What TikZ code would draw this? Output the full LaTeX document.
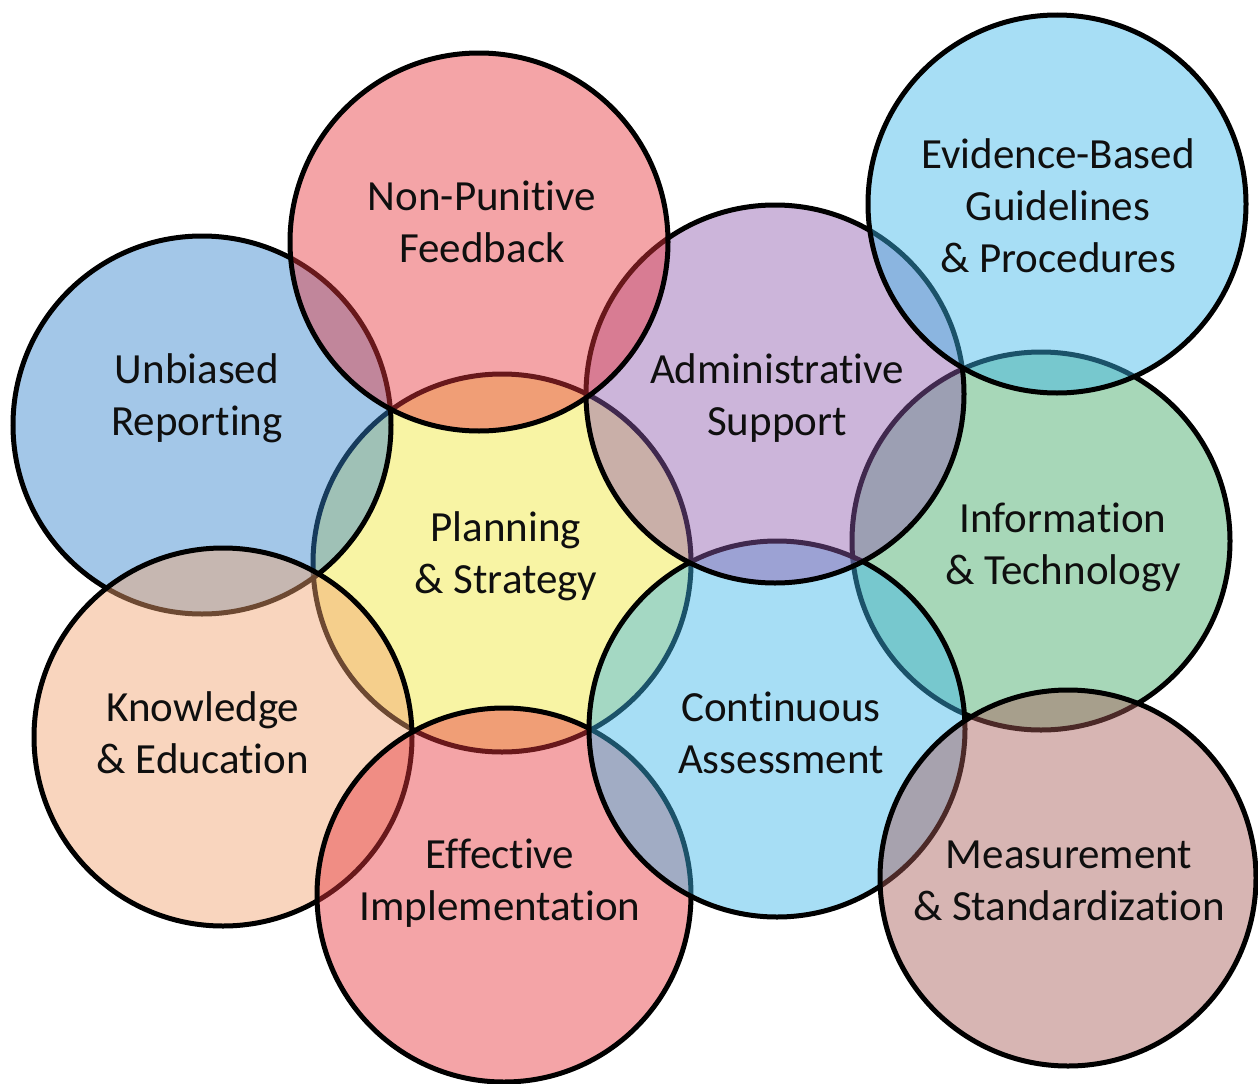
\documentclass[tikz,border=0pt]{standalone}
\usepackage{fontspec}
\setmainfont{Carlito}[Ligatures=NoCommon, RawFeature={-liga;-clig;-calt;-rlig;-dlig}]
\definecolor{cPink}{RGB}{231,55,62}
\definecolor{cYellow}{RGB}{240,232,55}
\definecolor{cBlue}{RGB}{51,133,204}
\definecolor{cCyan}{RGB}{62,182,233}
\definecolor{cPurple}{RGB}{144,91,173}
\definecolor{cGreen}{RGB}{62,168,99}
\definecolor{cPeach}{RGB}{242,164,111}
\definecolor{cMauve}{RGB}{168,91,88}
\definecolor{cText}{RGB}{15,15,15}
\tikzset{
  bubble/.style={circle, draw=black, line width=5pt, fill opacity=0.45,
    draw opacity=1, inner sep=0pt, outer sep=0pt},
  lbl/.style={font=\fontsize{43}{52}\selectfont, align=center, text=cText,
    inner sep=0pt}
}
\begin{document}
\begin{tikzpicture}[x=1pt,y=-1pt]
\fill[white] (0,0) rectangle (1258,1084);
\useasboundingbox (0,0) rectangle (1258,1084);
% circles, bottom to top
\node[bubble, fill=cYellow, minimum size=378pt] (plan) at (502,563) {};
\node[bubble, fill=cBlue,   minimum size=378pt] (unb)  at (202,425) {};
\node[bubble, fill=cPeach,  minimum size=378pt] (know) at (223,737) {};
\node[bubble, fill=cPink,   minimum size=374pt] (eff)  at (504,895) {};
\node[bubble, fill=cGreen,  minimum size=378pt] (info) at (1041,541) {};
\node[bubble, fill=cCyan,   minimum size=376pt] (cont) at (777,729) {};
\node[bubble, fill=cMauve,  minimum size=376pt] (meas) at (1068,878) {};
\node[bubble, fill=cPurple, minimum size=378pt] (adm)  at (775,394) {};
\node[bubble, fill=cPink,   minimum size=378pt] (nonp) at (479,242) {};
\node[bubble, fill=cCyan,   minimum size=378pt] (evid) at (1057,204) {};
% labels
\node[lbl] (tplan) at (506,557) {\strut Planning\\\strut\& Strategy};
\node[lbl] (tunb)  at (197,399) {\strut Unbiased\\\strut Reporting};
\node[lbl] (tknow) at (203,737) {\strut Knowledge\\\strut\& Education};
\node[lbl] (teff)  at (500,884) {\strut Effective\\\strut Implementation};
\node[lbl] (tinfo) at (1063,548) {\strut Information\\\strut\& Technology};
\node[lbl] (tcont) at (781,737) {\strut Continuous\\\strut Assessment};
\node[lbl] (tmeas) at (1069,884) {\strut Measurement\\\strut\& Standardization};
\node[lbl] (tadm)  at (777,399) {\strut Administrative\\\strut Support};
\node[lbl] (tnonp) at (482,226) {\strut Non-Punitive\\\strut Feedback};
\node[lbl] (tevid) at (1058,210) {\strut Evidence-Based\\\strut Guidelines\\\strut\& Procedures};
\end{tikzpicture}
\end{document}
